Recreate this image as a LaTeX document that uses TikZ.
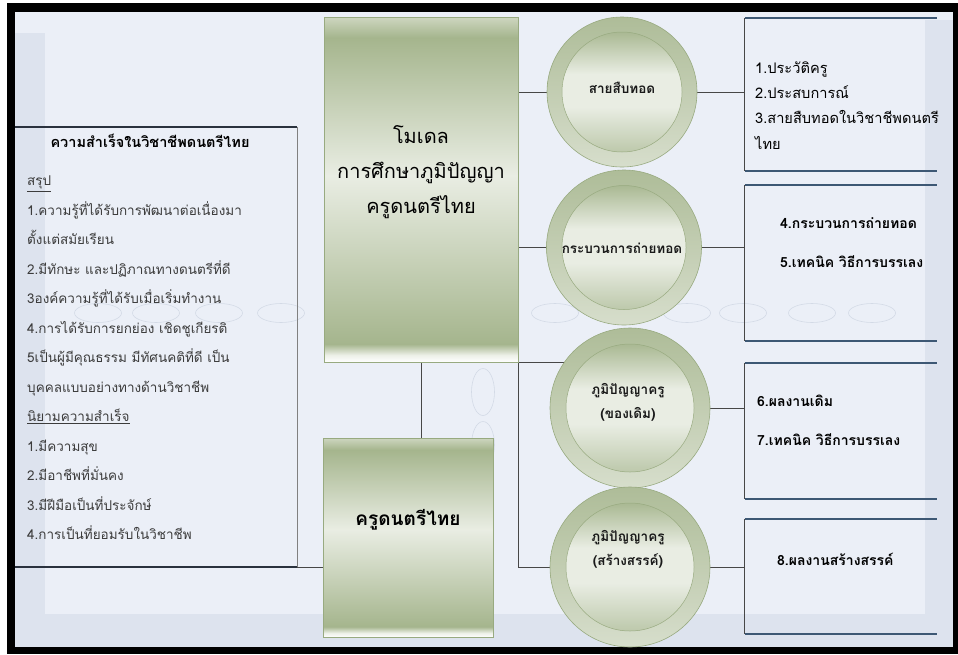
\documentclass[tikz,border=0pt]{standalone}
\usepackage{fontspec}
\newfontfamily\thaifont[Script=Thai]{Loma}
\pgfdeclarelayer{background}
\pgfsetlayers{background,main}

\definecolor{bgblue}{HTML}{EBEFF7}
\definecolor{stripe}{HTML}{DDE3EE}
\definecolor{olive}{HTML}{A5B58D}
\definecolor{palegreen}{HTML}{E9EDE3}
\definecolor{edgegreen}{HTML}{98AA80}
\definecolor{linegray}{HTML}{474747}
\definecolor{steel}{HTML}{3D5874}
\definecolor{darkrule}{HTML}{2A323E}
\definecolor{listgray}{HTML}{3C3C3C}
\definecolor{faintoval}{HTML}{D3DAE6}

\pgfdeclareverticalshading{greenband}{100bp}{color(0bp)=(white); color(25bp)=(white); color(26bp)=(white!80!olive); color(27.6bp)=(olive); color(52bp)=(palegreen); color(72bp)=(olive); color(75bp)=(white!45!olive); color(100bp)=(white!45!olive)}
\pgfdeclareverticalshading{circleband}{100bp}{color(0bp)=(white!60!olive); color(25bp)=(white!60!olive); color(28bp)=(olive!80!white); color(45bp)=(palegreen); color(56bp)=(palegreen); color(71bp)=(olive); color(75bp)=(olive!75!white); color(100bp)=(olive!75!white)}

\tikzset{
  modelbox/.style={draw=edgegreen, line width=0.7pt, shading=greenband, inner sep=0pt},
  wisdom/.style={circle, draw=edgegreen, line width=0.6pt, inner sep=0pt,
    top color=olive!90!white, bottom color=olive!45!white, minimum size=2*#1,
    path picture={\shadedraw[shading=circleband, draw=edgegreen, line width=0.5pt]
      (path picture bounding box.center) circle[radius=0.8*#1];}},
  circlabel/.style={font=\thaifont\bfseries\fontsize{13.5}{24}\selectfont, align=center, text=black!90},
  listtext/.style={font=\thaifont\fontsize{13.5}{29.5}\selectfont, align=left, text=listgray, inner sep=0pt},
  notetext/.style={font=\thaifont\bfseries\fontsize{14}{#1}\selectfont, align=left, text=black, inner sep=0pt},
  notebox/.style={inner sep=0pt},
  conn/.style={draw=linegray, line width=0.9pt},
  steelrule/.style={draw=steel, line width=2pt},
  faint/.style={draw=faintoval, line width=0.6pt}
}

\begin{document}
\begin{tikzpicture}[x=1pt, y=-1pt]
  \useasboundingbox (0,0) rectangle (958,654);

  % frame and background
  \begin{pgfonlayer}{background}
    \fill[white] (0,0) rectangle (958,654);
    \fill[black] (7,3) rectangle (958,654);
    \fill[bgblue] (15,12) rectangle (953,647);
    \fill[stripe] (15,33) rectangle (45,647);
    \fill[stripe] (15,614) rectangle (953,647);
    \fill[stripe] (925,20) rectangle (953,647);
    \foreach \ex in {98,156,219,281,555,687,743,812,872}
      \draw[faint] (\ex,313) ellipse [x radius=23.5, y radius=9.5];
    \draw[faint] (483,392) ellipse [x radius=11.5, y radius=23.5];
    \draw[faint] (483,445) ellipse [x radius=11.5, y radius=23.5];
  \end{pgfonlayer}

  % left summary box
  \node[notebox, minimum width=282pt, minimum height=440pt] (success) at (156,347) {};
  \draw[darkrule, line width=2.5pt] (success.north west) -- (success.north east);
  \draw[darkrule, line width=2.5pt] (success.south west) -- (success.south east);
  \draw[gray, line width=0.8pt] (success.north east) -- (success.south east);
  \node[font=\thaifont\bfseries\fontsize{14.5}{16}\selectfont] (successtitle) at (150,141) {ความสำเร็จในวิชาชีพดนตรีไทย};
  \node[listtext, anchor=west] (successlist) at (27,358) {\underline{สรุป}\\
    1.ความรู้ที่ได้รับการพัฒนาต่อเนื่องมา\\
    ตั้งแต่สมัยเรียน\\
    2.มีทักษะ และปฏิภาณทางดนตรีที่ดี\\
    3องค์ความรู้ที่ได้รับเมื่อเริ่มทำงาน\\
    4.การได้รับการยกย่อง เชิดชูเกียรติ\\
    5เป็นผู้มีคุณธรรม มีทัศนคติที่ดี เป็น\\
    บุคคลแบบอย่างทางด้านวิชาชีพ\\
    \underline{นิยามความสำเร็จ}\\
    1.มีความสุข\\
    2.มีอาชีพที่มั่นคง\\
    3.มีฝีมือเป็นที่ประจักษ์\\
    4.การเป็นที่ยอมรับในวิชาชีพ};

  % model and teacher boxes
  \node[modelbox, minimum width=194pt, minimum height=345pt] (model) at (421,189.5) {};
  \node[font=\thaifont\fontsize{20}{35}\selectfont, align=center] (modeltext) at (421,172) {โมเดล\\การศึกษาภูมิปัญญา\\ครูดนตรีไทย};
  \node[modelbox, minimum width=170pt, minimum height=199pt] (teacher) at (408,537.5) {};
  \node[font=\thaifont\bfseries\fontsize{19}{24}\selectfont] (teachertext) at (408,520) {ครูดนตรีไทย};

  % circles
  \node[wisdom=75pt] (lineage) at (622,92) {};
  \node[wisdom=77.5pt] (transfer) at (624,247.5) {};
  \node[wisdom=80pt] (original) at (630,408) {};
  \node[wisdom=80pt] (creative) at (630,567) {};
  \node[circlabel] (lineagetext) at (622,88) {สายสืบทอด};
  \node[circlabel] (transfertext) at (622,248) {กระบวนการถ่ายทอด};
  \node[circlabel] (originaltext) at (628,402) {ภูมิปัญญาครู\\(ของเดิม)};
  \node[circlabel] (creativetext) at (628,549) {ภูมิปัญญาครู\\(สร้างสรรค์)};

  % right note boxes
  \node[notebox, minimum width=192pt, minimum height=153pt] (r1) at (841,94.5) {};
  \node[notebox, minimum width=192pt, minimum height=156pt] (r2) at (841,263) {};
  \node[notebox, minimum width=192pt, minimum height=136pt] (r3) at (841,431) {};
  \node[notebox, minimum width=192pt, minimum height=115pt] (r4) at (841,576.5) {};
  \foreach \r in {r1,r2,r3,r4} {
    \draw[steelrule] (\r.north west) -- (\r.north east);
    \draw[steelrule] (\r.south west) -- (\r.south east);
    \draw[conn] (\r.north west) -- (\r.south west);
  }
  \node[font=\thaifont\fontsize{14.6}{25.3}\selectfont, align=left, inner sep=0pt, anchor=west] (r1text) at (755,105.5) {1.ประวัติครู\\2.ประสบการณ์\\3.สายสืบทอดในวิชาชีพดนตรี\\ไทย};
  \node[notetext=39, anchor=west] (r2text) at (780,242.5) {4.กระบวนการถ่ายทอด\\5.เทคนิค วิธีการบรรเลง};
  \node[notetext=39, anchor=west] (r3text) at (757,420.5) {6.ผลงานเดิม\\7.เทคนิค วิธีการบรรเลง};
  \node[notetext=20, anchor=west] (r4text) at (777,559) {8.ผลงานสร้างสรรค์};

  % connectors
  \begin{pgfonlayer}{background}
    \draw[conn] (success.south east) -- (success.south east -| teacher.west);
    \draw[conn] (model.south) -- (model.south |- teacher.north);
    \draw[conn] (lineage.center -| model.east) -- (lineage.center);
    \draw[conn] (transfer.center -| model.east) -- (transfer.center);
    \draw[conn] (model.south east) -- (model.south east -| original.center);
    \draw[conn] (model.south east) |- (creative.center);
    \draw[conn] (lineage.center) -- (lineage.center -| r1.west);
    \draw[conn] (transfer.center) -- (transfer.center -| r2.west);
    \draw[conn] (original.center) -- (original.center -| r3.west);
    \draw[conn] (creative.center) -- (creative.center -| r4.west);
  \end{pgfonlayer}
\end{tikzpicture}
\end{document}
